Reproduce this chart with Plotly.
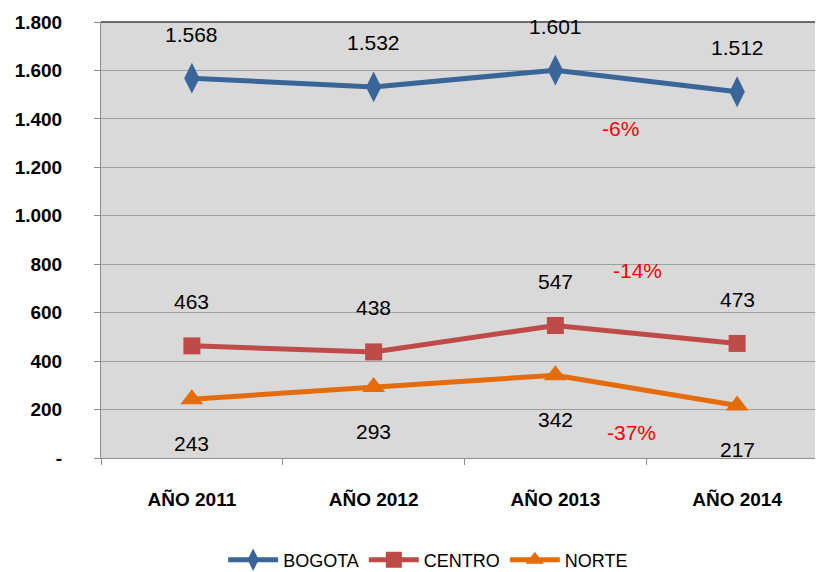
import plotly.graph_objects as go

# datos
anios = ['AÑO 2011', 'AÑO 2012', 'AÑO 2013', 'AÑO 2014']
bogota = [1568, 1532, 1601, 1512]
centro = [463, 438, 547, 473]
norte = [243, 293, 342, 217]

y_ticks = [0, 200, 400, 600, 800, 1000, 1200, 1400, 1600, 1800]
y_ticktext = ['-', '200', '400', '600', '800', '1.000', '1.200', '1.400', '1.600', '1.800']

# variaciones 2014 vs 2013 (texto rojo)
var_text = ['-6%', '-14%', '-37%']
var_x = [2.36, 2.45, 2.42]
var_y = [1362, 776, 107]

FONT = 'Liberation Sans, Arial, sans-serif'

series = [
    ('BOGOTA', bogota, '#3A6598', 'diamond-tall', 22, 1),
    ('CENTRO', centro, '#BE4B48', 'square', 17, 1),
    ('NORTE', norte, '#E46C0A', 'triangle-up', 20, -1),
]

fig = go.Figure()
annots = []
for name, vals, color, sym, size, side in series:
    fig.add_trace(go.Scatter(
        x=anios, y=vals, name=name, mode='lines+markers',
        line=dict(color=color, width=5),
        marker=dict(symbol=sym, size=size, color=color),
    ))
    for a, v in zip(anios, vals):
        annots.append(dict(
            x=a, y=v, text=f'{v:,}'.replace(',', '.'), showarrow=False,
            yshift=44 * side, font=dict(family=FONT, size=21, color='black'),
        ))

for t, x, y in zip(var_text, var_x, var_y):
    annots.append(dict(x=x, y=y, text=t, showarrow=False,
                       font=dict(family=FONT, size=21, color='red')))

# la pagina tiene 8px de margen en el body -> se compensa aqui
fig.update_layout(
    width=823, height=572,
    margin=dict(l=93, r=3, t=14, b=122, autoexpand=False),
    paper_bgcolor='white', plot_bgcolor='#D9D9D9',
    font=dict(family=FONT, size=19, color='black'),
    annotations=annots,
    showlegend=True,
    legend=dict(orientation='h', x=0.45, xanchor='center', y=-0.234, yanchor='middle',
                font=dict(family=FONT, size=18, color='black'),
                itemwidth=50, tracegroupgap=0),
)

fig.update_xaxes(
    range=[-0.5, 3.5], showgrid=False, showline=True, linecolor='#8C8C8C', linewidth=1,
    ticks='outside', tickson='boundaries', ticklen=6, tickcolor='#8C8C8C',
    ticklabelstandoff=24, tickfont=dict(family=FONT, size=19, weight='bold'),
    automargin=False,
)
fig.update_yaxes(
    range=[0, 1800], tickvals=y_ticks, ticktext=y_ticktext,
    showgrid=True, gridcolor='#A0A0A0', gridwidth=1,
    showline=True, linecolor='#8C8C8C', linewidth=1,
    ticks='outside', ticklen=6, tickcolor='#8C8C8C',
    ticklabelstandoff=28, tickfont=dict(family=FONT, size=19, weight='bold'),
    zeroline=False, automargin=False,
)
# borde superior oscuro del area de trazado
fig.add_shape(type='line', xref='paper', yref='paper', x0=0, x1=1, y0=1, y1=1,
              line=dict(color='#404040', width=1.5))

fig.write_html('out.html')
